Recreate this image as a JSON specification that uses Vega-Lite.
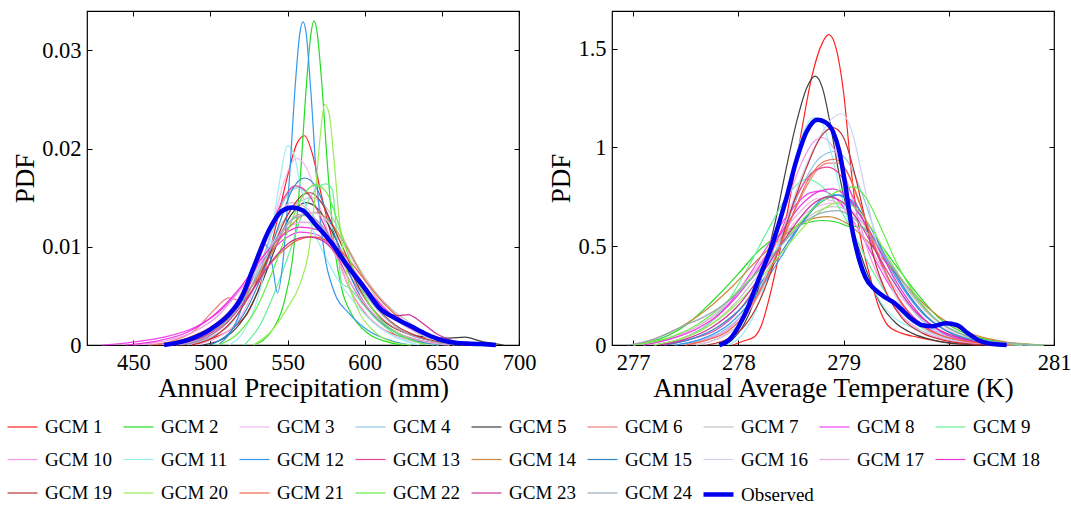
{
"$schema": "https://vega.github.io/schema/vega-lite/v6.json",
"padding": {"left": 5, "top": 9, "right": 0, "bottom": 0},
"background": "white",
"config": {
  "font": "Liberation Serif",
  "view": {"stroke": "black", "strokeWidth": 1.2},
  "axis": {"grid": false, "domain": false, "tickColor": "black", "tickSize": -5, "tickWidth": 1, "labelFont": "Liberation Serif", "labelFontSize": 22.5, "labelColor": "black", "titleFont": "Liberation Serif", "titleFontSize": 27, "titleFontWeight": "normal", "titleColor": "black", "labelPadding": 11, "titlePadding": 2, "labelFlush": false, "labelOverlap": false},
  "legend": {"orient": "none", "direction": "horizontal", "legendX": -82, "legendY": 399, "columns": 9, "symbolType": "stroke", "symbolSize": 900, "labelFont": "Liberation Serif", "labelFontSize": 19, "labelColor": "black", "labelOffset": 5, "gridAlign": "all", "padding": 0, "labelLimit": 0, "title": null}
},
"bounds": "flush",
"spacing": 93,
"resolve": {"scale": {"color": "shared", "strokeWidth": "shared"}},
"hconcat": [
{
  "width": 432, "height": 334,
  "data": {"values": [
{"model":"GCM 1","x":488,"y":0},{"model":"GCM 1","x":500,"y":0.0006},{"model":"GCM 1","x":515,"y":0.0018},{"model":"GCM 1","x":525,"y":0.0035},{"model":"GCM 1","x":535,"y":0.0075},{"model":"GCM 1","x":543,"y":0.0125},{"model":"GCM 1","x":550,"y":0.0172},{"model":"GCM 1","x":556,"y":0.0205},{"model":"GCM 1","x":561,"y":0.0213},{"model":"GCM 1","x":566,"y":0.0195},{"model":"GCM 1","x":572,"y":0.0152},{"model":"GCM 1","x":580,"y":0.0102},{"model":"GCM 1","x":590,"y":0.0058},{"model":"GCM 1","x":600,"y":0.0033},{"model":"GCM 1","x":612,"y":0.0016},{"model":"GCM 1","x":625,"y":0.0008},{"model":"GCM 1","x":640,"y":0.0003},{"model":"GCM 1","x":655,"y":0},
{"model":"GCM 2","x":528,"y":0},{"model":"GCM 2","x":540,"y":0.0015},{"model":"GCM 2","x":548,"y":0.0045},{"model":"GCM 2","x":553,"y":0.0085},{"model":"GCM 2","x":558,"y":0.0165},{"model":"GCM 2","x":562,"y":0.026},{"model":"GCM 2","x":565,"y":0.0315},{"model":"GCM 2","x":567,"y":0.033},{"model":"GCM 2","x":569,"y":0.032},{"model":"GCM 2","x":572,"y":0.027},{"model":"GCM 2","x":576,"y":0.018},{"model":"GCM 2","x":580,"y":0.0105},{"model":"GCM 2","x":585,"y":0.0058},{"model":"GCM 2","x":592,"y":0.003},{"model":"GCM 2","x":602,"y":0.0012},{"model":"GCM 2","x":615,"y":0.0003},{"model":"GCM 2","x":625,"y":0},
{"model":"GCM 3","x":490,"y":0},{"model":"GCM 3","x":505,"y":0.0008},{"model":"GCM 3","x":518,"y":0.0025},{"model":"GCM 3","x":530,"y":0.0065},{"model":"GCM 3","x":540,"y":0.012},{"model":"GCM 3","x":548,"y":0.0168},{"model":"GCM 3","x":556,"y":0.019},{"model":"GCM 3","x":563,"y":0.0178},{"model":"GCM 3","x":570,"y":0.0145},{"model":"GCM 3","x":580,"y":0.0098},{"model":"GCM 3","x":590,"y":0.0058},{"model":"GCM 3","x":602,"y":0.003},{"model":"GCM 3","x":615,"y":0.0013},{"model":"GCM 3","x":630,"y":0.0004},{"model":"GCM 3","x":645,"y":0},
{"model":"GCM 4","x":485,"y":0},{"model":"GCM 4","x":500,"y":0.0008},{"model":"GCM 4","x":515,"y":0.0025},{"model":"GCM 4","x":528,"y":0.0065},{"model":"GCM 4","x":540,"y":0.0115},{"model":"GCM 4","x":548,"y":0.0148},{"model":"GCM 4","x":556,"y":0.016},{"model":"GCM 4","x":564,"y":0.0152},{"model":"GCM 4","x":572,"y":0.0128},{"model":"GCM 4","x":582,"y":0.0092},{"model":"GCM 4","x":592,"y":0.006},{"model":"GCM 4","x":605,"y":0.0032},{"model":"GCM 4","x":618,"y":0.0015},{"model":"GCM 4","x":632,"y":0.0005},{"model":"GCM 4","x":648,"y":0},
{"model":"GCM 5","x":495,"y":0},{"model":"GCM 5","x":510,"y":0.0008},{"model":"GCM 5","x":522,"y":0.0028},{"model":"GCM 5","x":533,"y":0.0062},{"model":"GCM 5","x":543,"y":0.0102},{"model":"GCM 5","x":552,"y":0.0132},{"model":"GCM 5","x":562,"y":0.0145},{"model":"GCM 5","x":570,"y":0.0138},{"model":"GCM 5","x":580,"y":0.0112},{"model":"GCM 5","x":590,"y":0.0078},{"model":"GCM 5","x":600,"y":0.0048},{"model":"GCM 5","x":612,"y":0.0025},{"model":"GCM 5","x":625,"y":0.0013},{"model":"GCM 5","x":640,"y":0.0008},{"model":"GCM 5","x":655,"y":0.0007},{"model":"GCM 5","x":665,"y":0.0008},{"model":"GCM 5","x":675,"y":0.0004},{"model":"GCM 5","x":690,"y":0},
{"model":"GCM 6","x":460,"y":0},{"model":"GCM 6","x":475,"y":0.0004},{"model":"GCM 6","x":490,"y":0.0015},{"model":"GCM 6","x":502,"y":0.0035},{"model":"GCM 6","x":512,"y":0.0048},{"model":"GCM 6","x":520,"y":0.0045},{"model":"GCM 6","x":528,"y":0.0058},{"model":"GCM 6","x":538,"y":0.0088},{"model":"GCM 6","x":548,"y":0.0118},{"model":"GCM 6","x":558,"y":0.0133},{"model":"GCM 6","x":568,"y":0.0128},{"model":"GCM 6","x":578,"y":0.0105},{"model":"GCM 6","x":590,"y":0.0072},{"model":"GCM 6","x":602,"y":0.0043},{"model":"GCM 6","x":615,"y":0.0022},{"model":"GCM 6","x":630,"y":0.001},{"model":"GCM 6","x":648,"y":0.0003},{"model":"GCM 6","x":665,"y":0},
{"model":"GCM 7","x":475,"y":0},{"model":"GCM 7","x":492,"y":0.0008},{"model":"GCM 7","x":508,"y":0.0025},{"model":"GCM 7","x":522,"y":0.0052},{"model":"GCM 7","x":535,"y":0.009},{"model":"GCM 7","x":548,"y":0.0128},{"model":"GCM 7","x":558,"y":0.0146},{"model":"GCM 7","x":566,"y":0.015},{"model":"GCM 7","x":575,"y":0.014},{"model":"GCM 7","x":585,"y":0.0112},{"model":"GCM 7","x":595,"y":0.0082},{"model":"GCM 7","x":605,"y":0.0058},{"model":"GCM 7","x":615,"y":0.004},{"model":"GCM 7","x":628,"y":0.0024},{"model":"GCM 7","x":642,"y":0.0011},{"model":"GCM 7","x":660,"y":0.0003},{"model":"GCM 7","x":675,"y":0},
{"model":"GCM 8","x":430,"y":0},{"model":"GCM 8","x":450,"y":0.0003},{"model":"GCM 8","x":470,"y":0.0008},{"model":"GCM 8","x":490,"y":0.0018},{"model":"GCM 8","x":505,"y":0.0033},{"model":"GCM 8","x":520,"y":0.0058},{"model":"GCM 8","x":535,"y":0.0088},{"model":"GCM 8","x":548,"y":0.0108},{"model":"GCM 8","x":558,"y":0.0115},{"model":"GCM 8","x":568,"y":0.0113},{"model":"GCM 8","x":580,"y":0.0098},{"model":"GCM 8","x":592,"y":0.0075},{"model":"GCM 8","x":605,"y":0.005},{"model":"GCM 8","x":618,"y":0.003},{"model":"GCM 8","x":632,"y":0.0015},{"model":"GCM 8","x":648,"y":0.0006},{"model":"GCM 8","x":665,"y":0.0002},{"model":"GCM 8","x":685,"y":0},
{"model":"GCM 9","x":522,"y":0},{"model":"GCM 9","x":532,"y":0.002},{"model":"GCM 9","x":542,"y":0.0055},{"model":"GCM 9","x":552,"y":0.0098},{"model":"GCM 9","x":560,"y":0.0135},{"model":"GCM 9","x":568,"y":0.0158},{"model":"GCM 9","x":575,"y":0.0164},{"model":"GCM 9","x":579,"y":0.0158},{"model":"GCM 9","x":582,"y":0.011},{"model":"GCM 9","x":585,"y":0.0063},{"model":"GCM 9","x":590,"y":0.0058},{"model":"GCM 9","x":598,"y":0.0043},{"model":"GCM 9","x":608,"y":0.0025},{"model":"GCM 9","x":620,"y":0.0011},{"model":"GCM 9","x":635,"y":0.0003},{"model":"GCM 9","x":648,"y":0},
{"model":"GCM 10","x":450,"y":0},{"model":"GCM 10","x":470,"y":0.0004},{"model":"GCM 10","x":490,"y":0.0014},{"model":"GCM 10","x":505,"y":0.003},{"model":"GCM 10","x":520,"y":0.0058},{"model":"GCM 10","x":535,"y":0.0092},{"model":"GCM 10","x":548,"y":0.0117},{"model":"GCM 10","x":560,"y":0.0125},{"model":"GCM 10","x":572,"y":0.0119},{"model":"GCM 10","x":584,"y":0.0098},{"model":"GCM 10","x":596,"y":0.007},{"model":"GCM 10","x":608,"y":0.0045},{"model":"GCM 10","x":620,"y":0.0026},{"model":"GCM 10","x":635,"y":0.0012},{"model":"GCM 10","x":652,"y":0.0004},{"model":"GCM 10","x":670,"y":0},
{"model":"GCM 11","x":512,"y":0},{"model":"GCM 11","x":522,"y":0.0015},{"model":"GCM 11","x":532,"y":0.0055},{"model":"GCM 11","x":540,"y":0.0118},{"model":"GCM 11","x":545,"y":0.0168},{"model":"GCM 11","x":550,"y":0.0203},{"model":"GCM 11","x":554,"y":0.0195},{"model":"GCM 11","x":558,"y":0.0165},{"model":"GCM 11","x":564,"y":0.0128},{"model":"GCM 11","x":572,"y":0.0098},{"model":"GCM 11","x":582,"y":0.0068},{"model":"GCM 11","x":594,"y":0.0042},{"model":"GCM 11","x":606,"y":0.0022},{"model":"GCM 11","x":620,"y":0.0008},{"model":"GCM 11","x":635,"y":0},
{"model":"GCM 12","x":505,"y":0},{"model":"GCM 12","x":515,"y":0.0018},{"model":"GCM 12","x":524,"y":0.0055},{"model":"GCM 12","x":531,"y":0.0095},{"model":"GCM 12","x":536,"y":0.0102},{"model":"GCM 12","x":540,"y":0.0082},{"model":"GCM 12","x":543.5,"y":0.0053},{"model":"GCM 12","x":547,"y":0.0085},{"model":"GCM 12","x":551,"y":0.0165},{"model":"GCM 12","x":555,"y":0.0265},{"model":"GCM 12","x":558,"y":0.0318},{"model":"GCM 12","x":560,"y":0.0329},{"model":"GCM 12","x":562,"y":0.0318},{"model":"GCM 12","x":565,"y":0.026},{"model":"GCM 12","x":569,"y":0.0165},{"model":"GCM 12","x":574,"y":0.0092},{"model":"GCM 12","x":580,"y":0.0055},{"model":"GCM 12","x":590,"y":0.0032},{"model":"GCM 12","x":602,"y":0.0015},{"model":"GCM 12","x":618,"y":0.0004},{"model":"GCM 12","x":630,"y":0},
{"model":"GCM 13","x":482,"y":0},{"model":"GCM 13","x":498,"y":0.0008},{"model":"GCM 13","x":512,"y":0.0025},{"model":"GCM 13","x":525,"y":0.006},{"model":"GCM 13","x":537,"y":0.011},{"model":"GCM 13","x":547,"y":0.0148},{"model":"GCM 13","x":555,"y":0.0162},{"model":"GCM 13","x":563,"y":0.0155},{"model":"GCM 13","x":572,"y":0.0128},{"model":"GCM 13","x":583,"y":0.0088},{"model":"GCM 13","x":595,"y":0.0052},{"model":"GCM 13","x":608,"y":0.0027},{"model":"GCM 13","x":622,"y":0.0012},{"model":"GCM 13","x":638,"y":0.0004},{"model":"GCM 13","x":655,"y":0},
{"model":"GCM 14","x":478,"y":0},{"model":"GCM 14","x":495,"y":0.0008},{"model":"GCM 14","x":510,"y":0.0024},{"model":"GCM 14","x":524,"y":0.0052},{"model":"GCM 14","x":537,"y":0.0088},{"model":"GCM 14","x":550,"y":0.0118},{"model":"GCM 14","x":560,"y":0.0132},{"model":"GCM 14","x":567,"y":0.0135},{"model":"GCM 14","x":576,"y":0.0128},{"model":"GCM 14","x":587,"y":0.0103},{"model":"GCM 14","x":598,"y":0.0072},{"model":"GCM 14","x":610,"y":0.0043},{"model":"GCM 14","x":624,"y":0.0022},{"model":"GCM 14","x":640,"y":0.0008},{"model":"GCM 14","x":658,"y":0.0002},{"model":"GCM 14","x":672,"y":0},
{"model":"GCM 15","x":500,"y":0},{"model":"GCM 15","x":512,"y":0.0012},{"model":"GCM 15","x":524,"y":0.0038},{"model":"GCM 15","x":535,"y":0.0078},{"model":"GCM 15","x":545,"y":0.0125},{"model":"GCM 15","x":553,"y":0.0158},{"model":"GCM 15","x":561,"y":0.017},{"model":"GCM 15","x":568,"y":0.0162},{"model":"GCM 15","x":576,"y":0.0132},{"model":"GCM 15","x":586,"y":0.0088},{"model":"GCM 15","x":597,"y":0.005},{"model":"GCM 15","x":610,"y":0.0024},{"model":"GCM 15","x":625,"y":0.0009},{"model":"GCM 15","x":640,"y":0.0002},{"model":"GCM 15","x":652,"y":0},
{"model":"GCM 16","x":470,"y":0},{"model":"GCM 16","x":488,"y":0.0007},{"model":"GCM 16","x":505,"y":0.0022},{"model":"GCM 16","x":520,"y":0.005},{"model":"GCM 16","x":534,"y":0.0088},{"model":"GCM 16","x":547,"y":0.0118},{"model":"GCM 16","x":557,"y":0.0132},{"model":"GCM 16","x":565,"y":0.0135},{"model":"GCM 16","x":574,"y":0.0129},{"model":"GCM 16","x":585,"y":0.0105},{"model":"GCM 16","x":597,"y":0.0073},{"model":"GCM 16","x":610,"y":0.0044},{"model":"GCM 16","x":624,"y":0.0022},{"model":"GCM 16","x":640,"y":0.0008},{"model":"GCM 16","x":658,"y":0},
{"model":"GCM 17","x":478,"y":0},{"model":"GCM 17","x":495,"y":0.0009},{"model":"GCM 17","x":510,"y":0.0028},{"model":"GCM 17","x":523,"y":0.0062},{"model":"GCM 17","x":535,"y":0.0105},{"model":"GCM 17","x":545,"y":0.0135},{"model":"GCM 17","x":553,"y":0.0145},{"model":"GCM 17","x":562,"y":0.014},{"model":"GCM 17","x":572,"y":0.0118},{"model":"GCM 17","x":583,"y":0.0085},{"model":"GCM 17","x":595,"y":0.0053},{"model":"GCM 17","x":608,"y":0.0028},{"model":"GCM 17","x":622,"y":0.0012},{"model":"GCM 17","x":640,"y":0.0003},{"model":"GCM 17","x":655,"y":0},
{"model":"GCM 18","x":445,"y":0},{"model":"GCM 18","x":465,"y":0.0004},{"model":"GCM 18","x":485,"y":0.0013},{"model":"GCM 18","x":502,"y":0.003},{"model":"GCM 18","x":518,"y":0.0056},{"model":"GCM 18","x":533,"y":0.0088},{"model":"GCM 18","x":547,"y":0.0112},{"model":"GCM 18","x":558,"y":0.012},{"model":"GCM 18","x":568,"y":0.0118},{"model":"GCM 18","x":580,"y":0.0102},{"model":"GCM 18","x":592,"y":0.0077},{"model":"GCM 18","x":605,"y":0.005},{"model":"GCM 18","x":618,"y":0.003},{"model":"GCM 18","x":632,"y":0.0015},{"model":"GCM 18","x":648,"y":0.0006},{"model":"GCM 18","x":668,"y":0},
{"model":"GCM 19","x":488,"y":0},{"model":"GCM 19","x":503,"y":0.0009},{"model":"GCM 19","x":516,"y":0.0028},{"model":"GCM 19","x":528,"y":0.0058},{"model":"GCM 19","x":540,"y":0.0098},{"model":"GCM 19","x":551,"y":0.0135},{"model":"GCM 19","x":560,"y":0.0153},{"model":"GCM 19","x":565,"y":0.0155},{"model":"GCM 19","x":572,"y":0.0145},{"model":"GCM 19","x":582,"y":0.0112},{"model":"GCM 19","x":594,"y":0.0072},{"model":"GCM 19","x":606,"y":0.0042},{"model":"GCM 19","x":620,"y":0.002},{"model":"GCM 19","x":636,"y":0.0008},{"model":"GCM 19","x":652,"y":0.0002},{"model":"GCM 19","x":665,"y":0},
{"model":"GCM 20","x":528,"y":0},{"model":"GCM 20","x":540,"y":0.0015},{"model":"GCM 20","x":550,"y":0.0038},{"model":"GCM 20","x":558,"y":0.0062},{"model":"GCM 20","x":564,"y":0.0098},{"model":"GCM 20","x":568,"y":0.0155},{"model":"GCM 20","x":571,"y":0.021},{"model":"GCM 20","x":574,"y":0.0245},{"model":"GCM 20","x":577,"y":0.0235},{"model":"GCM 20","x":580,"y":0.019},{"model":"GCM 20","x":584,"y":0.012},{"model":"GCM 20","x":589,"y":0.0068},{"model":"GCM 20","x":596,"y":0.0035},{"model":"GCM 20","x":606,"y":0.0014},{"model":"GCM 20","x":618,"y":0.0003},{"model":"GCM 20","x":630,"y":0},
{"model":"GCM 21","x":465,"y":0},{"model":"GCM 21","x":485,"y":0.0007},{"model":"GCM 21","x":502,"y":0.002},{"model":"GCM 21","x":518,"y":0.0043},{"model":"GCM 21","x":533,"y":0.0072},{"model":"GCM 21","x":547,"y":0.0096},{"model":"GCM 21","x":557,"y":0.0107},{"model":"GCM 21","x":566,"y":0.011},{"model":"GCM 21","x":576,"y":0.0106},{"model":"GCM 21","x":588,"y":0.009},{"model":"GCM 21","x":600,"y":0.0066},{"model":"GCM 21","x":612,"y":0.0043},{"model":"GCM 21","x":626,"y":0.0023},{"model":"GCM 21","x":642,"y":0.0009},{"model":"GCM 21","x":660,"y":0.0002},{"model":"GCM 21","x":675,"y":0},
{"model":"GCM 22","x":505,"y":0},{"model":"GCM 22","x":518,"y":0.0012},{"model":"GCM 22","x":530,"y":0.0038},{"model":"GCM 22","x":541,"y":0.0078},{"model":"GCM 22","x":551,"y":0.012},{"model":"GCM 22","x":560,"y":0.0152},{"model":"GCM 22","x":568,"y":0.0163},{"model":"GCM 22","x":575,"y":0.0156},{"model":"GCM 22","x":582,"y":0.0128},{"model":"GCM 22","x":590,"y":0.0088},{"model":"GCM 22","x":600,"y":0.005},{"model":"GCM 22","x":612,"y":0.0023},{"model":"GCM 22","x":626,"y":0.0008},{"model":"GCM 22","x":640,"y":0},
{"model":"GCM 23","x":475,"y":0},{"model":"GCM 23","x":495,"y":0.0008},{"model":"GCM 23","x":512,"y":0.0025},{"model":"GCM 23","x":527,"y":0.0055},{"model":"GCM 23","x":541,"y":0.0088},{"model":"GCM 23","x":553,"y":0.0106},{"model":"GCM 23","x":563,"y":0.011},{"model":"GCM 23","x":573,"y":0.0106},{"model":"GCM 23","x":584,"y":0.0088},{"model":"GCM 23","x":595,"y":0.0065},{"model":"GCM 23","x":606,"y":0.0043},{"model":"GCM 23","x":615,"y":0.0032},{"model":"GCM 23","x":622,"y":0.003},{"model":"GCM 23","x":628,"y":0.0031},{"model":"GCM 23","x":636,"y":0.0024},{"model":"GCM 23","x":646,"y":0.0012},{"model":"GCM 23","x":658,"y":0.0004},{"model":"GCM 23","x":672,"y":0},
{"model":"GCM 24","x":480,"y":0},{"model":"GCM 24","x":497,"y":0.0008},{"model":"GCM 24","x":512,"y":0.0026},{"model":"GCM 24","x":526,"y":0.0058},{"model":"GCM 24","x":539,"y":0.0098},{"model":"GCM 24","x":551,"y":0.0125},{"model":"GCM 24","x":560,"y":0.0132},{"model":"GCM 24","x":569,"y":0.0127},{"model":"GCM 24","x":579,"y":0.0106},{"model":"GCM 24","x":591,"y":0.0075},{"model":"GCM 24","x":603,"y":0.0046},{"model":"GCM 24","x":616,"y":0.0024},{"model":"GCM 24","x":630,"y":0.001},{"model":"GCM 24","x":646,"y":0.0003},{"model":"GCM 24","x":660,"y":0},
{"model":"Observed","x":470,"y":0},{"model":"Observed","x":485,"y":0.0005},{"model":"Observed","x":500,"y":0.0016},{"model":"Observed","x":512,"y":0.0031},{"model":"Observed","x":520,"y":0.0048},{"model":"Observed","x":528,"y":0.0079},{"model":"Observed","x":538,"y":0.0117},{"model":"Observed","x":546,"y":0.0136},{"model":"Observed","x":553,"y":0.014},{"model":"Observed","x":560,"y":0.0137},{"model":"Observed","x":568,"y":0.0123},{"model":"Observed","x":578,"y":0.0105},{"model":"Observed","x":590,"y":0.0078},{"model":"Observed","x":600,"y":0.0058},{"model":"Observed","x":610,"y":0.0037},{"model":"Observed","x":620,"y":0.0027},{"model":"Observed","x":630,"y":0.0019},{"model":"Observed","x":640,"y":0.0011},{"model":"Observed","x":650,"y":0.0005},{"model":"Observed","x":660,"y":0.0002},{"model":"Observed","x":675,"y":0.0001},{"model":"Observed","x":685,"y":0}
  ]},
  "resolve": {"axis": {"x": "independent", "y": "independent"}},
  "layer": [
    {
      "mark": {"type": "line", "interpolate": "monotone"},
      "encoding": {
        "x": {"field": "x", "type": "quantitative", "scale": {"domain": [420, 700], "nice": false, "zero": false}, "axis": {"values": [450, 500, 550, 600, 650, 700], "title": "Annual Precipitation (mm)"}},
        "y": {"field": "y", "type": "quantitative", "scale": {"domain": [0, 0.034], "nice": false}, "axis": {"values": [0, 0.01, 0.02, 0.03], "format": "~g", "title": "PDF"}},
        "color": {"field": "model", "type": "nominal", "legend": {"columnPadding": -4, "rowPadding": 5.5}, "scale": {"domain": ["GCM 1","GCM 2","GCM 3","GCM 4","GCM 5","GCM 6","GCM 7","GCM 8","GCM 9","GCM 10","GCM 11","GCM 12","GCM 13","GCM 14","GCM 15","GCM 16","GCM 17","GCM 18","GCM 19","GCM 20","GCM 21","GCM 22","GCM 23","GCM 24","Observed"], "range": ["#ff2020","#22dd22","#f4b8f0","#90c8e8","#404040","#f08080","#c4c4c4","#ee44ee","#66ee99","#f49ae8","#99eeee","#3399ee","#ee4499","#cc8840","#3388cc","#d0d0f4","#e8b0e0","#ee33dd","#bb3333","#99ee55","#ee6644","#66ee44","#cc3399","#99aabb","#0000ee"]}},
        "strokeWidth": {"field": "model", "type": "nominal", "legend": {"columnPadding": -4, "rowPadding": 5.5}, "scale": {"type": "ordinal", "domain": ["GCM 1","GCM 2","GCM 3","GCM 4","GCM 5","GCM 6","GCM 7","GCM 8","GCM 9","GCM 10","GCM 11","GCM 12","GCM 13","GCM 14","GCM 15","GCM 16","GCM 17","GCM 18","GCM 19","GCM 20","GCM 21","GCM 22","GCM 23","GCM 24","Observed"], "range": [1.2,1.2,1.2,1.2,1.2,1.2,1.2,1.2,1.2,1.2,1.2,1.2,1.2,1.2,1.2,1.2,1.2,1.2,1.2,1.2,1.2,1.2,1.2,1.2,4.5]}}
      }
    },
    {
      "mark": {"type": "point", "opacity": 0},
      "encoding": {
        "x": {"field": "x", "type": "quantitative", "scale": {"domain": [420, 700], "nice": false, "zero": false}, "axis": {"orient": "top", "labels": false, "title": null, "values": [450, 500, 550, 600, 650, 700]}},
        "y": {"field": "y", "type": "quantitative", "scale": {"domain": [0, 0.034], "nice": false}, "axis": {"orient": "right", "labels": false, "title": null, "values": [0, 0.01, 0.02, 0.03]}}
      }
    }
  ]
},
{
  "width": 442, "height": 334,
  "data": {"values": [
{"model":"GCM 1","x":277.95,"y":0},{"model":"GCM 1","x":278.05,"y":0.02},{"model":"GCM 1","x":278.15,"y":0.04},{"model":"GCM 1","x":278.22,"y":0.1},{"model":"GCM 1","x":278.3,"y":0.25},{"model":"GCM 1","x":278.4,"y":0.49},{"model":"GCM 1","x":278.5,"y":0.77},{"model":"GCM 1","x":278.6,"y":1.08},{"model":"GCM 1","x":278.7,"y":1.36},{"model":"GCM 1","x":278.8,"y":1.53},{"model":"GCM 1","x":278.86,"y":1.57},{"model":"GCM 1","x":278.93,"y":1.5},{"model":"GCM 1","x":279.0,"y":1.28},{"model":"GCM 1","x":279.08,"y":0.85},{"model":"GCM 1","x":279.16,"y":0.55},{"model":"GCM 1","x":279.25,"y":0.35},{"model":"GCM 1","x":279.33,"y":0.2},{"model":"GCM 1","x":279.42,"y":0.1},{"model":"GCM 1","x":279.55,"y":0.06},{"model":"GCM 1","x":279.7,"y":0.04},{"model":"GCM 1","x":279.9,"y":0.02},{"model":"GCM 1","x":280.1,"y":0.005},{"model":"GCM 1","x":280.3,"y":0},
{"model":"GCM 2","x":277.0,"y":0},{"model":"GCM 2","x":277.25,"y":0.03},{"model":"GCM 2","x":277.5,"y":0.1},{"model":"GCM 2","x":277.75,"y":0.22},{"model":"GCM 2","x":278.0,"y":0.36},{"model":"GCM 2","x":278.2,"y":0.48},{"model":"GCM 2","x":278.4,"y":0.56},{"model":"GCM 2","x":278.6,"y":0.61},{"model":"GCM 2","x":278.8,"y":0.63},{"model":"GCM 2","x":278.95,"y":0.62},{"model":"GCM 2","x":279.05,"y":0.6},{"model":"GCM 2","x":279.15,"y":0.6},{"model":"GCM 2","x":279.3,"y":0.54},{"model":"GCM 2","x":279.5,"y":0.4},{"model":"GCM 2","x":279.7,"y":0.26},{"model":"GCM 2","x":279.9,"y":0.14},{"model":"GCM 2","x":280.15,"y":0.06},{"model":"GCM 2","x":280.5,"y":0.015},{"model":"GCM 2","x":280.9,"y":0},
{"model":"GCM 3","x":277.0,"y":0},{"model":"GCM 3","x":277.3,"y":0.03},{"model":"GCM 3","x":277.6,"y":0.09},{"model":"GCM 3","x":277.85,"y":0.18},{"model":"GCM 3","x":278.1,"y":0.32},{"model":"GCM 3","x":278.35,"y":0.5},{"model":"GCM 3","x":278.6,"y":0.65},{"model":"GCM 3","x":278.8,"y":0.71},{"model":"GCM 3","x":278.95,"y":0.72},{"model":"GCM 3","x":279.1,"y":0.67},{"model":"GCM 3","x":279.28,"y":0.55},{"model":"GCM 3","x":279.46,"y":0.38},{"model":"GCM 3","x":279.65,"y":0.23},{"model":"GCM 3","x":279.85,"y":0.12},{"model":"GCM 3","x":280.1,"y":0.05},{"model":"GCM 3","x":280.4,"y":0.015},{"model":"GCM 3","x":280.8,"y":0},
{"model":"GCM 4","x":277.4,"y":0},{"model":"GCM 4","x":277.6,"y":0.02},{"model":"GCM 4","x":277.85,"y":0.07},{"model":"GCM 4","x":278.05,"y":0.16},{"model":"GCM 4","x":278.25,"y":0.34},{"model":"GCM 4","x":278.45,"y":0.6},{"model":"GCM 4","x":278.62,"y":0.82},{"model":"GCM 4","x":278.78,"y":0.95},{"model":"GCM 4","x":278.92,"y":0.98},{"model":"GCM 4","x":279.05,"y":0.92},{"model":"GCM 4","x":279.18,"y":0.76},{"model":"GCM 4","x":279.32,"y":0.54},{"model":"GCM 4","x":279.48,"y":0.33},{"model":"GCM 4","x":279.65,"y":0.18},{"model":"GCM 4","x":279.85,"y":0.08},{"model":"GCM 4","x":280.1,"y":0.03},{"model":"GCM 4","x":280.4,"y":0.008},{"model":"GCM 4","x":280.7,"y":0},
{"model":"GCM 5","x":277.85,"y":0},{"model":"GCM 5","x":277.95,"y":0.03},{"model":"GCM 5","x":278.05,"y":0.1},{"model":"GCM 5","x":278.15,"y":0.22},{"model":"GCM 5","x":278.25,"y":0.4},{"model":"GCM 5","x":278.35,"y":0.62},{"model":"GCM 5","x":278.45,"y":0.88},{"model":"GCM 5","x":278.55,"y":1.12},{"model":"GCM 5","x":278.65,"y":1.3},{"model":"GCM 5","x":278.73,"y":1.36},{"model":"GCM 5","x":278.8,"y":1.3},{"model":"GCM 5","x":278.88,"y":1.1},{"model":"GCM 5","x":278.96,"y":0.86},{"model":"GCM 5","x":279.05,"y":0.65},{"model":"GCM 5","x":279.15,"y":0.48},{"model":"GCM 5","x":279.25,"y":0.33},{"model":"GCM 5","x":279.35,"y":0.21},{"model":"GCM 5","x":279.5,"y":0.11},{"model":"GCM 5","x":279.65,"y":0.06},{"model":"GCM 5","x":279.85,"y":0.025},{"model":"GCM 5","x":280.1,"y":0.005},{"model":"GCM 5","x":280.3,"y":0},
{"model":"GCM 6","x":277.6,"y":0},{"model":"GCM 6","x":277.8,"y":0.03},{"model":"GCM 6","x":278.0,"y":0.1},{"model":"GCM 6","x":278.2,"y":0.26},{"model":"GCM 6","x":278.4,"y":0.5},{"model":"GCM 6","x":278.58,"y":0.73},{"model":"GCM 6","x":278.74,"y":0.88},{"model":"GCM 6","x":278.85,"y":0.92},{"model":"GCM 6","x":278.95,"y":0.92},{"model":"GCM 6","x":279.06,"y":0.85},{"model":"GCM 6","x":279.18,"y":0.68},{"model":"GCM 6","x":279.32,"y":0.46},{"model":"GCM 6","x":279.48,"y":0.27},{"model":"GCM 6","x":279.65,"y":0.14},{"model":"GCM 6","x":279.85,"y":0.06},{"model":"GCM 6","x":280.1,"y":0.02},{"model":"GCM 6","x":280.4,"y":0},
{"model":"GCM 7","x":277.2,"y":0},{"model":"GCM 7","x":277.45,"y":0.03},{"model":"GCM 7","x":277.7,"y":0.09},{"model":"GCM 7","x":277.95,"y":0.2},{"model":"GCM 7","x":278.2,"y":0.36},{"model":"GCM 7","x":278.45,"y":0.53},{"model":"GCM 7","x":278.7,"y":0.66},{"model":"GCM 7","x":278.9,"y":0.7},{"model":"GCM 7","x":279.08,"y":0.67},{"model":"GCM 7","x":279.25,"y":0.57},{"model":"GCM 7","x":279.43,"y":0.42},{"model":"GCM 7","x":279.62,"y":0.27},{"model":"GCM 7","x":279.82,"y":0.15},{"model":"GCM 7","x":280.05,"y":0.07},{"model":"GCM 7","x":280.3,"y":0.025},{"model":"GCM 7","x":280.7,"y":0},
{"model":"GCM 8","x":277.2,"y":0},{"model":"GCM 8","x":277.45,"y":0.03},{"model":"GCM 8","x":277.7,"y":0.1},{"model":"GCM 8","x":277.9,"y":0.2},{"model":"GCM 8","x":278.1,"y":0.35},{"model":"GCM 8","x":278.3,"y":0.52},{"model":"GCM 8","x":278.5,"y":0.68},{"model":"GCM 8","x":278.68,"y":0.77},{"model":"GCM 8","x":278.8,"y":0.78},{"model":"GCM 8","x":278.95,"y":0.73},{"model":"GCM 8","x":279.1,"y":0.62},{"model":"GCM 8","x":279.28,"y":0.45},{"model":"GCM 8","x":279.45,"y":0.29},{"model":"GCM 8","x":279.65,"y":0.15},{"model":"GCM 8","x":279.85,"y":0.07},{"model":"GCM 8","x":280.1,"y":0.02},{"model":"GCM 8","x":280.4,"y":0},
{"model":"GCM 9","x":277.2,"y":0},{"model":"GCM 9","x":277.45,"y":0.03},{"model":"GCM 9","x":277.7,"y":0.1},{"model":"GCM 9","x":277.9,"y":0.22},{"model":"GCM 9","x":278.1,"y":0.4},{"model":"GCM 9","x":278.3,"y":0.6},{"model":"GCM 9","x":278.5,"y":0.78},{"model":"GCM 9","x":278.65,"y":0.84},{"model":"GCM 9","x":278.8,"y":0.8},{"model":"GCM 9","x":278.95,"y":0.7},{"model":"GCM 9","x":279.1,"y":0.56},{"model":"GCM 9","x":279.25,"y":0.4},{"model":"GCM 9","x":279.42,"y":0.25},{"model":"GCM 9","x":279.6,"y":0.14},{"model":"GCM 9","x":279.8,"y":0.07},{"model":"GCM 9","x":280.05,"y":0.025},{"model":"GCM 9","x":280.4,"y":0.005},{"model":"GCM 9","x":280.7,"y":0},
{"model":"GCM 10","x":277.5,"y":0},{"model":"GCM 10","x":277.7,"y":0.03},{"model":"GCM 10","x":277.9,"y":0.08},{"model":"GCM 10","x":278.1,"y":0.2},{"model":"GCM 10","x":278.3,"y":0.45},{"model":"GCM 10","x":278.45,"y":0.7},{"model":"GCM 10","x":278.6,"y":0.92},{"model":"GCM 10","x":278.72,"y":1.03},{"model":"GCM 10","x":278.8,"y":1.05},{"model":"GCM 10","x":278.9,"y":1.0},{"model":"GCM 10","x":279.0,"y":0.88},{"model":"GCM 10","x":279.12,"y":0.68},{"model":"GCM 10","x":279.25,"y":0.45},{"model":"GCM 10","x":279.4,"y":0.27},{"model":"GCM 10","x":279.55,"y":0.15},{"model":"GCM 10","x":279.75,"y":0.07},{"model":"GCM 10","x":280.0,"y":0.025},{"model":"GCM 10","x":280.3,"y":0.005},{"model":"GCM 10","x":280.5,"y":0},
{"model":"GCM 11","x":277.9,"y":0},{"model":"GCM 11","x":278.05,"y":0.06},{"model":"GCM 11","x":278.2,"y":0.22},{"model":"GCM 11","x":278.35,"y":0.52},{"model":"GCM 11","x":278.5,"y":0.85},{"model":"GCM 11","x":278.62,"y":1.08},{"model":"GCM 11","x":278.72,"y":1.15},{"model":"GCM 11","x":278.8,"y":1.12},{"model":"GCM 11","x":278.88,"y":0.98},{"model":"GCM 11","x":278.97,"y":0.78},{"model":"GCM 11","x":279.07,"y":0.58},{"model":"GCM 11","x":279.2,"y":0.38},{"model":"GCM 11","x":279.35,"y":0.22},{"model":"GCM 11","x":279.5,"y":0.13},{"model":"GCM 11","x":279.7,"y":0.08},{"model":"GCM 11","x":279.9,"y":0.05},{"model":"GCM 11","x":280.1,"y":0.03},{"model":"GCM 11","x":280.4,"y":0.01},{"model":"GCM 11","x":280.9,"y":0},
{"model":"GCM 12","x":277.4,"y":0},{"model":"GCM 12","x":277.65,"y":0.03},{"model":"GCM 12","x":277.9,"y":0.1},{"model":"GCM 12","x":278.15,"y":0.24},{"model":"GCM 12","x":278.4,"y":0.44},{"model":"GCM 12","x":278.62,"y":0.63},{"model":"GCM 12","x":278.8,"y":0.74},{"model":"GCM 12","x":278.92,"y":0.76},{"model":"GCM 12","x":279.05,"y":0.73},{"model":"GCM 12","x":279.2,"y":0.62},{"model":"GCM 12","x":279.38,"y":0.45},{"model":"GCM 12","x":279.56,"y":0.29},{"model":"GCM 12","x":279.75,"y":0.16},{"model":"GCM 12","x":279.95,"y":0.08},{"model":"GCM 12","x":280.2,"y":0.03},{"model":"GCM 12","x":280.5,"y":0.008},{"model":"GCM 12","x":280.8,"y":0},
{"model":"GCM 13","x":277.3,"y":0},{"model":"GCM 13","x":277.55,"y":0.03},{"model":"GCM 13","x":277.8,"y":0.08},{"model":"GCM 13","x":278.0,"y":0.17},{"model":"GCM 13","x":278.2,"y":0.33},{"model":"GCM 13","x":278.4,"y":0.57},{"model":"GCM 13","x":278.58,"y":0.78},{"model":"GCM 13","x":278.72,"y":0.88},{"model":"GCM 13","x":278.85,"y":0.9},{"model":"GCM 13","x":278.97,"y":0.86},{"model":"GCM 13","x":279.1,"y":0.74},{"model":"GCM 13","x":279.25,"y":0.55},{"model":"GCM 13","x":279.4,"y":0.36},{"model":"GCM 13","x":279.57,"y":0.2},{"model":"GCM 13","x":279.75,"y":0.1},{"model":"GCM 13","x":280.0,"y":0.035},{"model":"GCM 13","x":280.3,"y":0.01},{"model":"GCM 13","x":280.6,"y":0},
{"model":"GCM 14","x":277.0,"y":0},{"model":"GCM 14","x":277.2,"y":0.03},{"model":"GCM 14","x":277.45,"y":0.09},{"model":"GCM 14","x":277.7,"y":0.18},{"model":"GCM 14","x":277.95,"y":0.3},{"model":"GCM 14","x":278.2,"y":0.44},{"model":"GCM 14","x":278.45,"y":0.56},{"model":"GCM 14","x":278.65,"y":0.63},{"model":"GCM 14","x":278.85,"y":0.65},{"model":"GCM 14","x":279.02,"y":0.62},{"model":"GCM 14","x":279.2,"y":0.54},{"model":"GCM 14","x":279.4,"y":0.42},{"model":"GCM 14","x":279.6,"y":0.3},{"model":"GCM 14","x":279.8,"y":0.19},{"model":"GCM 14","x":280.0,"y":0.11},{"model":"GCM 14","x":280.25,"y":0.05},{"model":"GCM 14","x":280.55,"y":0.015},{"model":"GCM 14","x":280.9,"y":0},
{"model":"GCM 15","x":277.3,"y":0},{"model":"GCM 15","x":277.55,"y":0.03},{"model":"GCM 15","x":277.8,"y":0.09},{"model":"GCM 15","x":278.05,"y":0.2},{"model":"GCM 15","x":278.3,"y":0.38},{"model":"GCM 15","x":278.55,"y":0.58},{"model":"GCM 15","x":278.78,"y":0.72},{"model":"GCM 15","x":278.95,"y":0.76},{"model":"GCM 15","x":279.1,"y":0.72},{"model":"GCM 15","x":279.25,"y":0.6},{"model":"GCM 15","x":279.42,"y":0.43},{"model":"GCM 15","x":279.6,"y":0.27},{"model":"GCM 15","x":279.8,"y":0.14},{"model":"GCM 15","x":280.0,"y":0.065},{"model":"GCM 15","x":280.25,"y":0.02},{"model":"GCM 15","x":280.6,"y":0},
{"model":"GCM 16","x":277.6,"y":0},{"model":"GCM 16","x":277.8,"y":0.03},{"model":"GCM 16","x":278.0,"y":0.1},{"model":"GCM 16","x":278.15,"y":0.22},{"model":"GCM 16","x":278.3,"y":0.4},{"model":"GCM 16","x":278.45,"y":0.62},{"model":"GCM 16","x":278.6,"y":0.85},{"model":"GCM 16","x":278.75,"y":1.03},{"model":"GCM 16","x":278.88,"y":1.14},{"model":"GCM 16","x":278.98,"y":1.17},{"model":"GCM 16","x":279.08,"y":1.08},{"model":"GCM 16","x":279.18,"y":0.85},{"model":"GCM 16","x":279.3,"y":0.55},{"model":"GCM 16","x":279.45,"y":0.3},{"model":"GCM 16","x":279.6,"y":0.16},{"model":"GCM 16","x":279.8,"y":0.07},{"model":"GCM 16","x":280.0,"y":0.03},{"model":"GCM 16","x":280.3,"y":0.01},{"model":"GCM 16","x":280.6,"y":0},
{"model":"GCM 17","x":277.1,"y":0},{"model":"GCM 17","x":277.35,"y":0.03},{"model":"GCM 17","x":277.6,"y":0.09},{"model":"GCM 17","x":277.85,"y":0.19},{"model":"GCM 17","x":278.1,"y":0.34},{"model":"GCM 17","x":278.35,"y":0.52},{"model":"GCM 17","x":278.58,"y":0.67},{"model":"GCM 17","x":278.75,"y":0.74},{"model":"GCM 17","x":278.9,"y":0.73},{"model":"GCM 17","x":279.05,"y":0.66},{"model":"GCM 17","x":279.22,"y":0.52},{"model":"GCM 17","x":279.4,"y":0.36},{"model":"GCM 17","x":279.6,"y":0.21},{"model":"GCM 17","x":279.8,"y":0.11},{"model":"GCM 17","x":280.05,"y":0.04},{"model":"GCM 17","x":280.4,"y":0.01},{"model":"GCM 17","x":280.7,"y":0},
{"model":"GCM 18","x":277.1,"y":0},{"model":"GCM 18","x":277.35,"y":0.03},{"model":"GCM 18","x":277.6,"y":0.08},{"model":"GCM 18","x":277.85,"y":0.17},{"model":"GCM 18","x":278.1,"y":0.32},{"model":"GCM 18","x":278.35,"y":0.52},{"model":"GCM 18","x":278.6,"y":0.71},{"model":"GCM 18","x":278.78,"y":0.78},{"model":"GCM 18","x":278.9,"y":0.79},{"model":"GCM 18","x":279.05,"y":0.74},{"model":"GCM 18","x":279.2,"y":0.62},{"model":"GCM 18","x":279.38,"y":0.44},{"model":"GCM 18","x":279.56,"y":0.27},{"model":"GCM 18","x":279.75,"y":0.14},{"model":"GCM 18","x":279.95,"y":0.06},{"model":"GCM 18","x":280.2,"y":0.02},{"model":"GCM 18","x":280.5,"y":0},
{"model":"GCM 19","x":277.7,"y":0},{"model":"GCM 19","x":277.9,"y":0.03},{"model":"GCM 19","x":278.05,"y":0.09},{"model":"GCM 19","x":278.2,"y":0.22},{"model":"GCM 19","x":278.35,"y":0.43},{"model":"GCM 19","x":278.5,"y":0.68},{"model":"GCM 19","x":278.65,"y":0.9},{"model":"GCM 19","x":278.78,"y":1.05},{"model":"GCM 19","x":278.9,"y":1.1},{"model":"GCM 19","x":279.0,"y":1.05},{"model":"GCM 19","x":279.1,"y":0.88},{"model":"GCM 19","x":279.2,"y":0.65},{"model":"GCM 19","x":279.3,"y":0.42},{"model":"GCM 19","x":279.42,"y":0.25},{"model":"GCM 19","x":279.55,"y":0.14},{"model":"GCM 19","x":279.75,"y":0.06},{"model":"GCM 19","x":279.95,"y":0.025},{"model":"GCM 19","x":280.2,"y":0.005},{"model":"GCM 19","x":280.4,"y":0},
{"model":"GCM 20","x":277.2,"y":0},{"model":"GCM 20","x":277.45,"y":0.03},{"model":"GCM 20","x":277.7,"y":0.09},{"model":"GCM 20","x":277.95,"y":0.19},{"model":"GCM 20","x":278.2,"y":0.33},{"model":"GCM 20","x":278.45,"y":0.49},{"model":"GCM 20","x":278.7,"y":0.64},{"model":"GCM 20","x":278.88,"y":0.71},{"model":"GCM 20","x":278.98,"y":0.72},{"model":"GCM 20","x":279.12,"y":0.69},{"model":"GCM 20","x":279.28,"y":0.58},{"model":"GCM 20","x":279.45,"y":0.42},{"model":"GCM 20","x":279.65,"y":0.26},{"model":"GCM 20","x":279.85,"y":0.14},{"model":"GCM 20","x":280.1,"y":0.06},{"model":"GCM 20","x":280.4,"y":0.015},{"model":"GCM 20","x":280.8,"y":0},
{"model":"GCM 21","x":277.5,"y":0},{"model":"GCM 21","x":277.7,"y":0.025},{"model":"GCM 21","x":277.9,"y":0.07},{"model":"GCM 21","x":278.1,"y":0.18},{"model":"GCM 21","x":278.3,"y":0.38},{"model":"GCM 21","x":278.5,"y":0.64},{"model":"GCM 21","x":278.68,"y":0.85},{"model":"GCM 21","x":278.82,"y":0.93},{"model":"GCM 21","x":278.92,"y":0.94},{"model":"GCM 21","x":279.03,"y":0.88},{"model":"GCM 21","x":279.15,"y":0.72},{"model":"GCM 21","x":279.3,"y":0.5},{"model":"GCM 21","x":279.45,"y":0.31},{"model":"GCM 21","x":279.62,"y":0.16},{"model":"GCM 21","x":279.8,"y":0.08},{"model":"GCM 21","x":280.05,"y":0.03},{"model":"GCM 21","x":280.35,"y":0.008},{"model":"GCM 21","x":280.6,"y":0},
{"model":"GCM 22","x":277.0,"y":0},{"model":"GCM 22","x":277.3,"y":0.03},{"model":"GCM 22","x":277.6,"y":0.1},{"model":"GCM 22","x":277.85,"y":0.2},{"model":"GCM 22","x":278.05,"y":0.3},{"model":"GCM 22","x":278.3,"y":0.44},{"model":"GCM 22","x":278.55,"y":0.6},{"model":"GCM 22","x":278.8,"y":0.73},{"model":"GCM 22","x":279.0,"y":0.79},{"model":"GCM 22","x":279.1,"y":0.8},{"model":"GCM 22","x":279.22,"y":0.74},{"model":"GCM 22","x":279.35,"y":0.6},{"model":"GCM 22","x":279.5,"y":0.42},{"model":"GCM 22","x":279.7,"y":0.24},{"model":"GCM 22","x":279.9,"y":0.12},{"model":"GCM 22","x":280.15,"y":0.05},{"model":"GCM 22","x":280.5,"y":0.012},{"model":"GCM 22","x":280.9,"y":0},
{"model":"GCM 23","x":277.25,"y":0},{"model":"GCM 23","x":277.5,"y":0.03},{"model":"GCM 23","x":277.75,"y":0.09},{"model":"GCM 23","x":278.0,"y":0.2},{"model":"GCM 23","x":278.25,"y":0.38},{"model":"GCM 23","x":278.5,"y":0.58},{"model":"GCM 23","x":278.7,"y":0.71},{"model":"GCM 23","x":278.85,"y":0.75},{"model":"GCM 23","x":279.0,"y":0.72},{"model":"GCM 23","x":279.15,"y":0.62},{"model":"GCM 23","x":279.32,"y":0.46},{"model":"GCM 23","x":279.5,"y":0.3},{"model":"GCM 23","x":279.7,"y":0.16},{"model":"GCM 23","x":279.9,"y":0.08},{"model":"GCM 23","x":280.15,"y":0.03},{"model":"GCM 23","x":280.5,"y":0},
{"model":"GCM 24","x":276.95,"y":0},{"model":"GCM 24","x":277.2,"y":0.03},{"model":"GCM 24","x":277.45,"y":0.09},{"model":"GCM 24","x":277.7,"y":0.15},{"model":"GCM 24","x":277.9,"y":0.22},{"model":"GCM 24","x":278.1,"y":0.32},{"model":"GCM 24","x":278.35,"y":0.47},{"model":"GCM 24","x":278.6,"y":0.61},{"model":"GCM 24","x":278.8,"y":0.67},{"model":"GCM 24","x":278.95,"y":0.68},{"model":"GCM 24","x":279.1,"y":0.64},{"model":"GCM 24","x":279.3,"y":0.52},{"model":"GCM 24","x":279.5,"y":0.37},{"model":"GCM 24","x":279.7,"y":0.23},{"model":"GCM 24","x":279.9,"y":0.12},{"model":"GCM 24","x":280.15,"y":0.05},{"model":"GCM 24","x":280.5,"y":0.012},{"model":"GCM 24","x":280.9,"y":0},
{"model":"Observed","x":277.82,"y":0},{"model":"Observed","x":277.92,"y":0.03},{"model":"Observed","x":278.01,"y":0.1},{"model":"Observed","x":278.1,"y":0.2},{"model":"Observed","x":278.17,"y":0.3},{"model":"Observed","x":278.33,"y":0.52},{"model":"Observed","x":278.45,"y":0.73},{"model":"Observed","x":278.55,"y":0.93},{"model":"Observed","x":278.65,"y":1.08},{"model":"Observed","x":278.75,"y":1.14},{"model":"Observed","x":278.82,"y":1.13},{"model":"Observed","x":278.9,"y":1.08},{"model":"Observed","x":278.96,"y":0.98},{"model":"Observed","x":279.02,"y":0.8},{"model":"Observed","x":279.08,"y":0.59},{"model":"Observed","x":279.15,"y":0.43},{"model":"Observed","x":279.21,"y":0.34},{"model":"Observed","x":279.3,"y":0.28},{"model":"Observed","x":279.4,"y":0.24},{"model":"Observed","x":279.49,"y":0.21},{"model":"Observed","x":279.57,"y":0.17},{"model":"Observed","x":279.65,"y":0.13},{"model":"Observed","x":279.75,"y":0.1},{"model":"Observed","x":279.85,"y":0.095},{"model":"Observed","x":279.97,"y":0.11},{"model":"Observed","x":280.08,"y":0.1},{"model":"Observed","x":280.18,"y":0.06},{"model":"Observed","x":280.3,"y":0.02},{"model":"Observed","x":280.42,"y":0.005},{"model":"Observed","x":280.55,"y":0}
  ]},
  "resolve": {"axis": {"x": "independent", "y": "independent"}},
  "layer": [
    {
      "mark": {"type": "line", "interpolate": "monotone"},
      "encoding": {
        "x": {"field": "x", "type": "quantitative", "scale": {"domain": [276.8, 281], "nice": false, "zero": false}, "axis": {"values": [277, 278, 279, 280, 281], "title": "Annual Average Temperature (K)"}},
        "y": {"field": "y", "type": "quantitative", "scale": {"domain": [0, 1.69], "nice": false}, "axis": {"values": [0, 0.5, 1, 1.5], "format": "~g", "title": "PDF"}},
        "color": {"field": "model", "type": "nominal", "legend": {"columnPadding": -4, "rowPadding": 5.5}, "scale": {"domain": ["GCM 1","GCM 2","GCM 3","GCM 4","GCM 5","GCM 6","GCM 7","GCM 8","GCM 9","GCM 10","GCM 11","GCM 12","GCM 13","GCM 14","GCM 15","GCM 16","GCM 17","GCM 18","GCM 19","GCM 20","GCM 21","GCM 22","GCM 23","GCM 24","Observed"], "range": ["#ff2020","#22dd22","#f4b8f0","#90c8e8","#404040","#f08080","#c4c4c4","#ee44ee","#66ee99","#f49ae8","#99eeee","#3399ee","#ee4499","#cc8840","#3388cc","#d0d0f4","#e8b0e0","#ee33dd","#bb3333","#99ee55","#ee6644","#66ee44","#cc3399","#99aabb","#0000ee"]}},
        "strokeWidth": {"field": "model", "type": "nominal", "legend": {"columnPadding": -4, "rowPadding": 5.5}, "scale": {"type": "ordinal", "domain": ["GCM 1","GCM 2","GCM 3","GCM 4","GCM 5","GCM 6","GCM 7","GCM 8","GCM 9","GCM 10","GCM 11","GCM 12","GCM 13","GCM 14","GCM 15","GCM 16","GCM 17","GCM 18","GCM 19","GCM 20","GCM 21","GCM 22","GCM 23","GCM 24","Observed"], "range": [1.2,1.2,1.2,1.2,1.2,1.2,1.2,1.2,1.2,1.2,1.2,1.2,1.2,1.2,1.2,1.2,1.2,1.2,1.2,1.2,1.2,1.2,1.2,1.2,4.5]}}
      }
    },
    {
      "mark": {"type": "point", "opacity": 0},
      "encoding": {
        "x": {"field": "x", "type": "quantitative", "scale": {"domain": [276.8, 281], "nice": false, "zero": false}, "axis": {"orient": "top", "labels": false, "title": null, "values": [277, 278, 279, 280, 281]}},
        "y": {"field": "y", "type": "quantitative", "scale": {"domain": [0, 1.69], "nice": false}, "axis": {"orient": "right", "labels": false, "title": null, "values": [0, 0.5, 1, 1.5]}}
      }
    }
  ]
}
]
}
